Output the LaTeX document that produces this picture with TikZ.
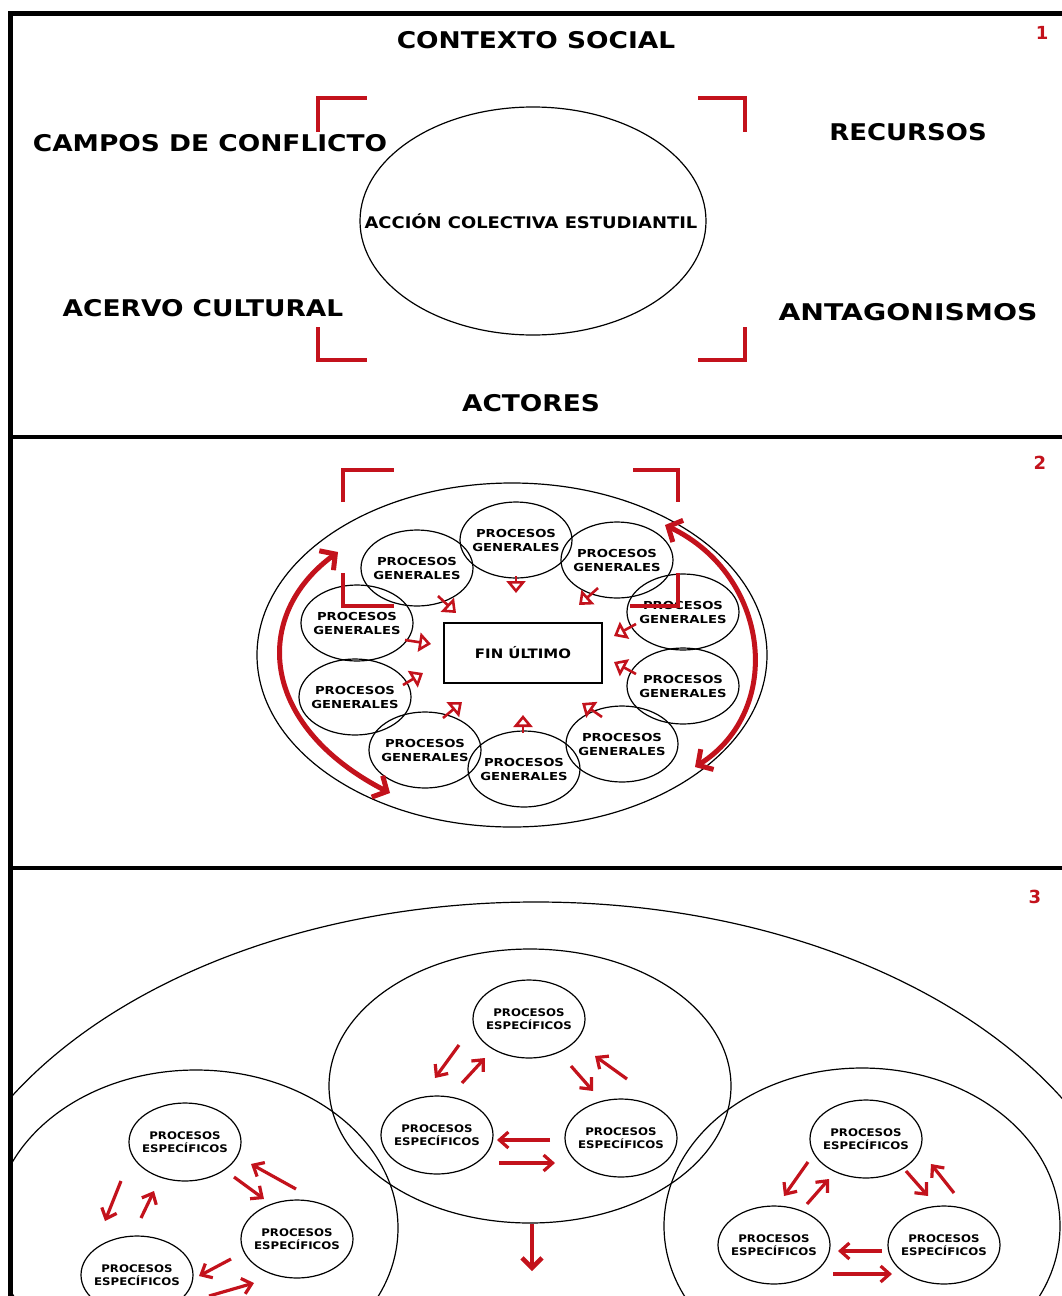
\documentclass[tikz,border=0pt]{standalone}
\usepackage{fontspec}
\setmainfont{DejaVu Sans}
\usetikzlibrary{arrows.meta}
\definecolor{rd}{RGB}{195,18,28}
\newcommand{\hs}[2]{\scalebox{#1}[1]{#2}}
\begin{document}
\begin{tikzpicture}[x=1pt,y=-1pt,
  lbl/.style={font=\bfseries\fontsize{23}{26}\selectfont, inner sep=0pt},
  num/.style={font=\bfseries\fontsize{18}{20}\selectfont, text=rd, inner sep=0pt},
  thinline/.style={draw=black, line width=1.2pt},
  framel/.style={line width=5pt, black},
  divl/.style={line width=3.5pt, black},
  brk/.style={draw=rd, line width=4.5pt},
  gtxt/.style={font=\bfseries\fontsize{11}{14}\selectfont, align=center, inner sep=0pt},
  etxt/.style={font=\bfseries\fontsize{10.5}{13}\selectfont, align=center, inner sep=0pt},
  garr/.style={draw=rd, line width=2.6pt, -{Triangle[open,length=12pt,width=19pt]}},
  bigarr/.style={draw=rd, line width=5pt, {Straight Barb[length=11pt,width=24pt]}-{Straight Barb[length=11pt,width=24pt]}},
  sarr/.style={draw=rd, line width=3.2pt, -{Straight Barb[length=9pt,width=16pt]}},
  downarr/.style={draw=rd, line width=4.5pt, -{Straight Barb[length=10pt,width=20pt]}}
]
\clip (0,0) rectangle (1062,1296);
\useasboundingbox (0,0) rectangle (1062,1296);
\fill[white] (0,0) rectangle (1062,1296);

% ---------- frame ----------
\draw[framel] (10,1300) -- (10,13) -- (1062,13);
\draw[divl] (10,437) -- (1062,437);
\draw[divl] (10,868) -- (1062,868);

% ---------- panel 1 ----------
\node[num] (n1) at (1042,33) {1};
\node[lbl] (ctx) at (536,40) {\hs{1.15}{CONTEXTO SOCIAL}};
\node[lbl] (cam) at (210,143) {\hs{1.15}{CAMPOS DE CONFLICTO}};
\node[lbl] (rec) at (908,132) {\hs{1.13}{RECURSOS}};
\node[lbl] (ace) at (203,308) {\hs{1.15}{ACERVO CULTURAL}};
\node[lbl] (ant) at (908,312) {\hs{1.23}{ANTAGONISMOS}};
\node[lbl] (act) at (531,403) {\hs{1.15}{ACTORES}};
\draw[thinline] (533,221) ellipse [x radius=173, y radius=114];
\node[font=\bfseries\fontsize{16}{18}\selectfont, inner sep=0pt, anchor=base] (ace1) at (531,228) {\hs{1.12}{ACCIÓN COLECTIVA ESTUDIANTIL}};
\draw[brk] (318,132) -- (318,98) -- (367,98);
\draw[brk] (698,98) -- (745,98) -- (745,132);
\draw[brk] (318,327) -- (318,360) -- (367,360);
\draw[brk] (698,360) -- (745,360) -- (745,327);

% ---------- panel 2 ----------
\node[num] (n2) at (1040,463) {2};
\draw[thinline] (512,655) ellipse [x radius=255, y radius=172];
\node[draw, line width=1.5pt, minimum width=158pt, minimum height=60pt, inner sep=0pt,
      font=\bfseries\fontsize{13}{15}\selectfont] (fin) at (523,653) {\hs{1.15}{FIN ÚLTIMO}};
\foreach \n/\px/\py in {g1/516/540, g2/417/568, g3/617/560, g4/683/612, g5/683/686,
                        g6/622/744, g7/524/769, g8/425/750, g9/355/697, g10/357/623} {
  \node[gtxt] (\n) at (\px,\py) {\hs{1.2}{PROCESOS}\\\hs{1.2}{GENERALES}};
  \draw[thinline] (\n.center) ellipse [x radius=56, y radius=38];
}
\foreach \n/\a/\b in {a1/{516,576}/{516,593}, a2/{438,596}/{456,613}, a3/{598,588}/{579,605},
                      a4/{636,624}/{614,636}, a5/{636,674}/{614,662}, a6/{602,717}/{582,703},
                      a7/{523,733}/{523,715}, a8/{443,718}/{462,702}, a9/{403,685}/{423,673},
                      a10/{405,640}/{431,644}} {
  \coordinate (\n s) at (\a);
  \coordinate (\n e) at (\b);
  \draw[garr] (\n s) -- (\n e);
}
\coordinate (la) at (338,552);
\coordinate (lb) at (390,793);
\coordinate (ra) at (665,525);
\coordinate (rb) at (695,767);
\draw[bigarr] (la) .. controls (252,615) and (258,725) .. (lb);
\draw[bigarr] (ra) .. controls (770,575) and (785,710) .. (rb);
\draw[brk] (343,502) -- (343,470) -- (394,470);
\draw[brk] (633,470) -- (678,470) -- (678,502);
\draw[brk] (343,573) -- (343,606) -- (394,606);
\draw[brk] (630,606) -- (678,606) -- (678,573);

% ---------- panel 3 ----------
\node[num] (n3) at (1035,897) {3};
\begin{scope}
\clip (12,870) rectangle (1062,1296);
\draw[thinline] (536,1296) ellipse [x radius=608, y radius=394];
\draw[thinline] (530,1086) ellipse [x radius=201, y radius=137];
\draw[thinline] (196,1228) ellipse [x radius=202, y radius=158];
\draw[thinline] (862,1226) ellipse [x radius=198, y radius=158];
\end{scope}
\foreach \n/\px/\py in {s1/529/1019, s2/437/1135, s3/621/1138,
                        l1/185/1142, l2/297/1239, l3/137/1275,
                        r1/866/1139, r2/774/1245, r3/944/1245} {
  \node[etxt] (\n) at (\px,\py) {\hs{1.12}{PROCESOS}\\\hs{1.12}{ESPECÍFICOS}};
  \draw[thinline] (\n.center) ellipse [x radius=56, y radius=39];
}
\foreach \n/\a/\b in {m1/{459,1045}/{435,1078}, m2/{462,1083}/{485,1058},
                      m3/{571,1066}/{593,1091}, m4/{627,1079}/{595,1056},
                      m5/{550,1140}/{497,1140}, m6/{499,1163}/{555,1163},
                      p1/{121,1181}/{105,1221}, p2/{141,1218}/{154,1191},
                      p3/{234,1177}/{264,1199}, p4/{296,1189}/{251,1164},
                      p5/{231,1259}/{199,1276}, p6/{209,1296}/{254,1283},
                      q1/{808,1162}/{784,1196}, q2/{807,1204}/{829,1179},
                      q3/{906,1171}/{928,1196}, q4/{954,1193}/{931,1164},
                      q5/{882,1251}/{838,1251}, q6/{833,1274}/{892,1274}} {
  \coordinate (\n s) at (\a);
  \coordinate (\n e) at (\b);
  \draw[sarr] (\n s) -- (\n e);
}
\coordinate (dns) at (532,1224);
\coordinate (dne) at (532,1271);
\draw[downarr] (dns) -- (dne);
\end{tikzpicture}
\end{document}
